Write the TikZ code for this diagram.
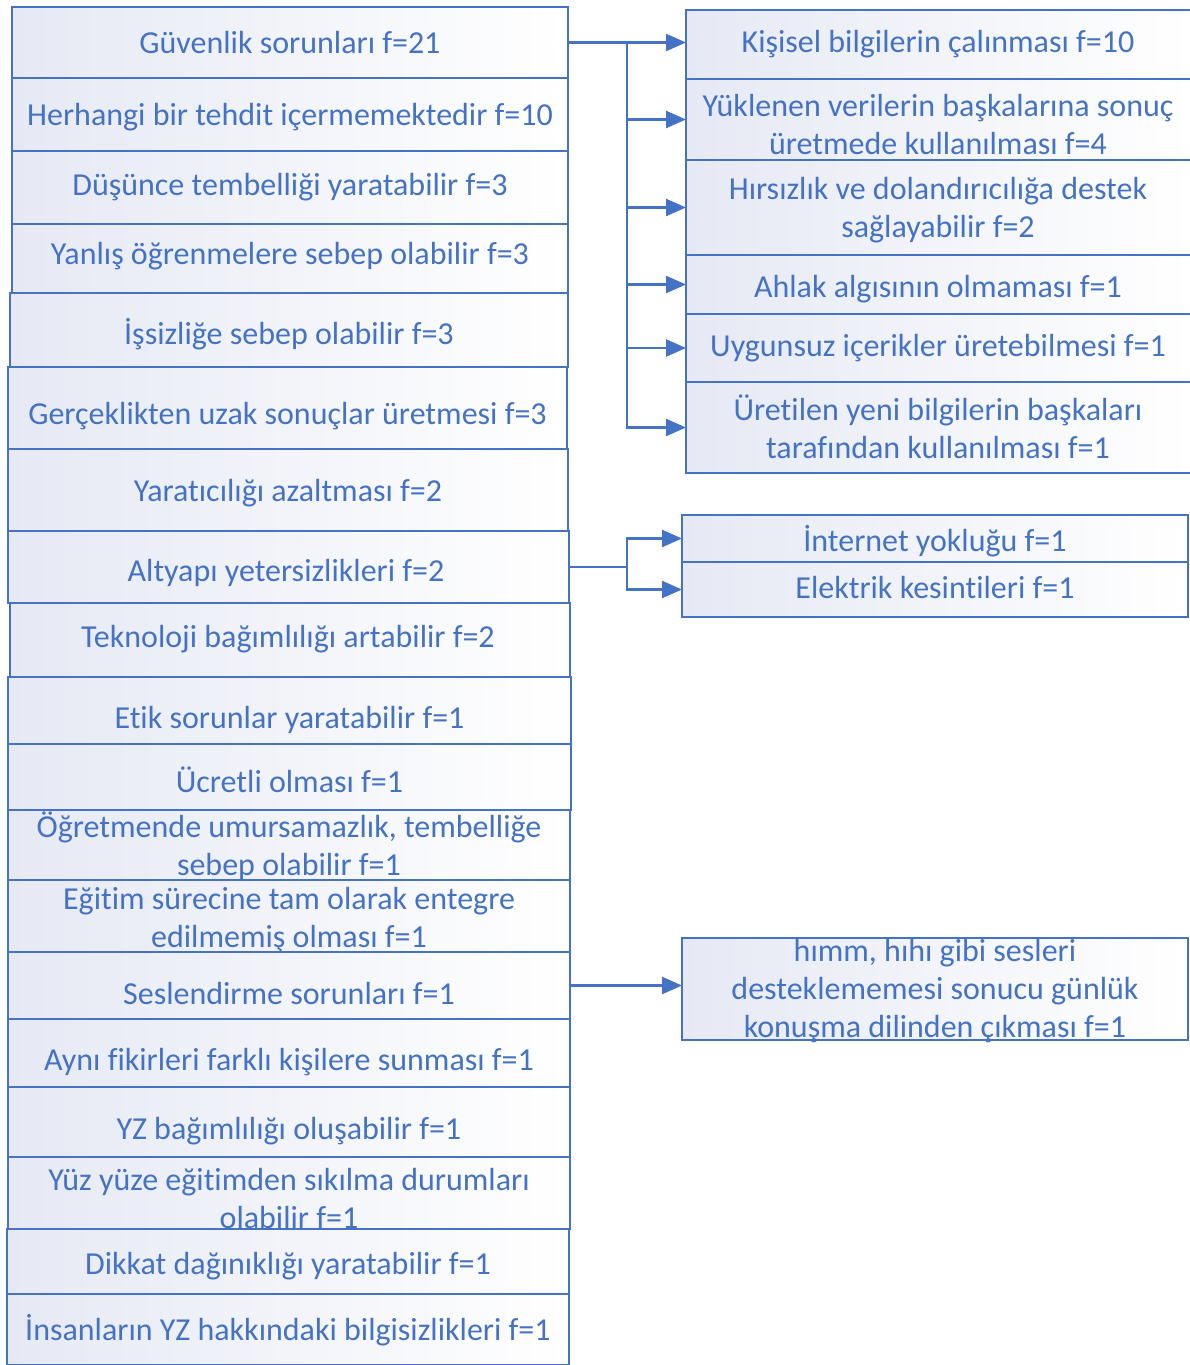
\documentclass[tikz,border=0pt]{standalone}
\usepackage{fontspec}
\setmainfont{Carlito}[Ligatures=NoCommon]
\usetikzlibrary{arrows.meta}
\definecolor{bl}{HTML}{4472C4}
\definecolor{gl}{HTML}{E6E9F4}
\newcommand\fs{\fontsize{32}{38}\selectfont}
\tikzset{
  boxs/.style={draw=bl, line width=2pt, left color=gl, right color=white, inner sep=0pt, outer sep=0pt},
  txt/.style={text=bl, font=\fs, inner sep=0pt, align=center, anchor=base, yshift=-1.5pt},
  ln/.style={draw=bl, line width=2.5pt},
  arr/.style={ln, -{Triangle[length=20pt,width=17pt]}}
}
% \bx{name}{x1}{y1}{x2}{y2}
\newcommand\bx[5]{\node[boxs, minimum width={#4pt-#2pt}, minimum height={#5pt-#3pt}] (#1) at ({(#2+#4)/2},{(#3+#5)/2}) {};}
\begin{document}
\begin{tikzpicture}[x=1pt,y=-1pt]
\useasboundingbox (0,0) rectangle (1190,1365);
% left column
\bx{b1}{12}{7}{568}{78}
\bx{b2}{12}{78}{568}{151}
\bx{b3}{12}{151}{568}{224}
\bx{b4}{12}{224}{568}{293}
\bx{b5}{10}{293}{568}{367}
\bx{b6}{8}{367}{567}{449}
\bx{b7}{8}{449}{568}{531}
\bx{b8}{8}{531}{569}{603}
\bx{b9}{10}{603}{570}{677}
\bx{b10}{8}{677}{571}{744}
\bx{b11}{8}{744}{571}{810}
\bx{b12}{8}{810}{570}{880}
\bx{b13}{8}{880}{570}{952}
\bx{b14}{8}{952}{570}{1019}
\bx{b15}{8}{1019}{570}{1087}
\bx{b16}{8}{1087}{570}{1157}
\bx{b17}{8}{1157}{570}{1229}
\bx{b18}{7}{1229}{569}{1294}
\bx{b19}{7}{1294}{569}{1365}
% right column
\bx{r1}{686}{10}{1192}{79}
\bx{r2}{686}{79}{1192}{160}
\bx{r3}{686}{160}{1192}{255}
\bx{r4}{686}{255}{1192}{314}
\bx{r5}{686}{314}{1192}{382}
\bx{r6}{686}{382}{1192}{473}
\bx{i1}{682}{515}{1188}{562}
\bx{i2}{682}{562}{1188}{617}
\bx{h1}{682}{938}{1188}{1040}
% texts left
\node[txt] (t1) at (290,51.5) {Güvenlik sorunları f=21};
\node[txt] (t2) at (290,124) {Herhangi bir tehdit içermemektedir f=10};
\node[txt] (t3) at (290,193.5) {Düşünce tembelliği yaratabilir f=3};
\node[txt] (t4) at (290,262.5) {Yanlış öğrenmelere sebep olabilir f=3};
\node[txt] (t5) at (289,342.5) {İşsizliğe sebep olabilir f=3};
\node[txt] (t6) at (287.5,422.5) {Gerçeklikten uzak sonuçlar üretmesi f=3};
\node[txt] (t7) at (288,499.5) {Yaratıcılığı azaltması f=2};
\node[txt] (t8) at (286,579.5) {Altyapı yetersizlikleri f=2};
\node[txt] (t9) at (288,645.5) {Teknoloji bağımlılığı artabilir f=2};
\node[txt] (t10) at (289.5,726.5) {Etik sorunlar yaratabilir f=1};
\node[txt] (t11) at (289.5,790.5) {Ücretli olması f=1};
\node[txt] (t12) at (289,873.5) {Öğretmende umursamazlık, tembelliğe\\sebep olabilir f=1};
\node[txt] (t13) at (289,945.5) {Eğitim sürecine tam olarak entegre\\edilmemiş olması f=1};
\node[txt] (t14) at (289,1002.5) {Seslendirme sorunları f=1};
\node[txt] (t15) at (289,1068.5) {Aynı fikirleri farklı kişilere sunması f=1};
\node[txt] (t16) at (289,1137.5) {YZ bağımlılığı oluşabilir f=1};
\node[txt] (t17) at (289,1226.5) {Yüz yüze eğitimden sıkılma durumları\\olabilir f=1};
\node[txt] (t18) at (288,1272.5) {Dikkat dağınıklığı yaratabilir f=1};
\node[txt] (t19) at (288,1338.5) {İnsanların YZ hakkındaki bilgisizlikleri f=1};
% texts right
\node[txt] (u1) at (938,50.5) {Kişisel bilgilerin çalınması f=10};
\node[txt] (u2) at (938,152.5) {Yüklenen verilerin başkalarına sonuç\\üretmede kullanılması f=4};
\node[txt] (u3) at (938,235.5) {Hırsızlık ve dolandırıcılığa destek\\sağlayabilir f=2};
\node[txt] (u4) at (938,295.5) {Ahlak algısının olmaması f=1};
\node[txt] (u5) at (938,354.5) {Uygunsuz içerikler üretebilmesi f=1};
\node[txt] (u6) at (938,456.5) {Üretilen yeni bilgilerin başkaları\\tarafından kullanılması f=1};
\node[txt] (v1) at (935,549.5) {İnternet yokluğu f=1};
\node[txt] (v2) at (935,596.5) {Elektrik kesintileri f=1};
\node[txt] (w1) at (935,1035.5) {hımm, hıhı gibi sesleri\\desteklememesi sonucu günlük\\konuşma dilinden çıkması f=1};
% connectors
\coordinate (j1) at (627,42.5);
\draw[arr] (b1.east) -- (b1.east -| r1.west);
\draw[arr] (j1) |- (r2.west);
\draw[arr] (j1) |- (r3.west);
\draw[arr] (j1) |- (r4.west);
\draw[arr] (j1) |- (r5.west);
\draw[arr] (j1) |- (r6.west);
\coordinate (j2) at (627,567);
\draw[ln] (b8.east) -- (j2);
\draw[arr] (j2) |- (i1.west);
\draw[arr] (j2) |- (i2.west);
\draw[arr] (b14.east) -- (b14.east -| h1.west);
\end{tikzpicture}
\end{document}
